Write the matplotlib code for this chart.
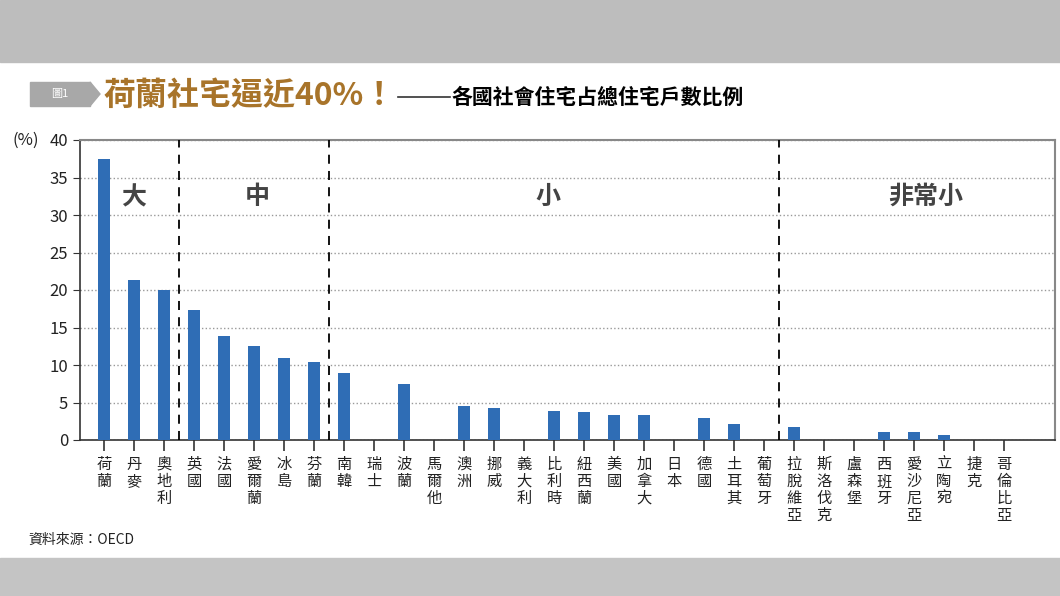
import matplotlib.pyplot as plt
import matplotlib.patches as mpatches
import matplotlib.lines as mlines
import numpy as np

plt.rcParams['font.family'] = ['Noto Sans CJK TC', 'DejaVu Sans']

countries = ['荷蘭', '丹麥', '奧地利', '英國', '法國', '愛爾蘭', '冰島', '芬蘭',
             '南韓', '瑞士', '波蘭', '馬爾他', '澳洲', '挪威', '義大利', '比利時',
             '紐西蘭', '美國', '加拿大', '日本', '德國', '土耳其', '葡萄牙',
             '拉脫維亞', '斯洛伐克', '盧森堡', '西班牙', '愛沙尼亞', '立陶宛', '捷克', '哥倫比亞']
values = [37.5, 21.3, 20.0, 17.3, 13.9, 12.5, 11.0, 10.4,
          9.0, 0, 7.5, 0, 4.5, 4.3, 0, 3.9,
          3.7, 3.4, 3.4, 0, 3.0, 2.2, 0,
          1.8, 0, 0, 1.1, 1.1, 0.7, 0, 0]
groups = ['大', '中', '小', '非常小']
group_pos = [1.0, 5.1, 14.8, 27.4]
dividers = [2.5, 7.5, 22.5]
yticks = [0, 5, 10, 15, 20, 25, 30, 35, 40]

fig = plt.figure(figsize=(10.6, 5.96), dpi=100)
fig.patch.set_facecolor('white')
# grey bands top and bottom
fig.add_artist(mpatches.Rectangle((0, 1 - 62 / 596), 1, 62 / 596, transform=fig.transFigure, color='#bdbdbd', zorder=0))
fig.add_artist(mpatches.Rectangle((0, 0), 1, 38 / 596, transform=fig.transFigure, color='#c4c4c4', zorder=0))

ax = fig.add_axes([80 / 1060, 1 - 440 / 596, 975 / 1060, 300 / 596])
x = np.arange(len(countries))
ax.bar(x, values, width=0.4, color='#2f6db5', zorder=3)
ax.set_xlim(-0.8, 31.7)
ax.set_ylim(0, 40)
ax.set_yticks(yticks)
ax.set_yticklabels([str(v) for v in yticks], fontsize=12, color='#222222')
ax.set_xticks(x)
ax.set_xticklabels(['\n'.join(c) for c in countries], fontsize=11, linespacing=1.0, va='top', color='#222222')
ax.tick_params(axis='x', length=8, width=1.2, color='#333333')
ax.tick_params(axis='y', length=5, color='#333333')
ax.yaxis.grid(True, linestyle=':', color='#999999', linewidth=1)
for s in ['top', 'right']:
    ax.spines[s].set_color('#888888')
    ax.spines[s].set_linewidth(1.5)
for s in ['left', 'bottom']:
    ax.spines[s].set_color('#333333')
    ax.spines[s].set_linewidth(1.2)
for d in dividers:
    ax.axvline(d, color='black', linestyle=(0, (5, 4)), linewidth=1.3, zorder=4)
for g, p in zip(groups, group_pos):
    ax.text(p, 32.4, g, fontsize=18, ha='center', va='center', color='#444444', fontweight='bold')

fig.text(12 / 1060, 1 - 140 / 596, '(%)', fontsize=12, va='center', color='#222222')

# title
fig.add_artist(mpatches.Rectangle((30 / 1060, 1 - 106 / 596), 60 / 1060, 24 / 596, transform=fig.transFigure, color='#a8a8a8'))
fig.add_artist(mpatches.Polygon([(90 / 1060, 1 - 82 / 596), (100 / 1060, 1 - 94 / 596), (90 / 1060, 1 - 106 / 596)],
                                transform=fig.transFigure, color='#a8a8a8'))
fig.text(60 / 1060, 1 - 94 / 596, '圖1', fontsize=8, color='white', ha='center', va='center')
fig.text(104 / 1060, 1 - 96 / 596, '荷蘭社宅逼近40%！', fontsize=23, color='#a8742a', fontweight='bold', va='center')
fig.add_artist(mlines.Line2D([398 / 1060, 450 / 1060], [1 - 97 / 596, 1 - 97 / 596], transform=fig.transFigure,
                             color='#333333', linewidth=1.2))
fig.text(452 / 1060, 1 - 97 / 596, '各國社會住宅占總住宅戶數比例', fontsize=15, color='black', fontweight='bold', va='center')

fig.text(28 / 1060, 1 - 540 / 596, '資料來源：OECD', fontsize=10, color='#222222', va='center')

fig.savefig('out.png', dpi=100)
